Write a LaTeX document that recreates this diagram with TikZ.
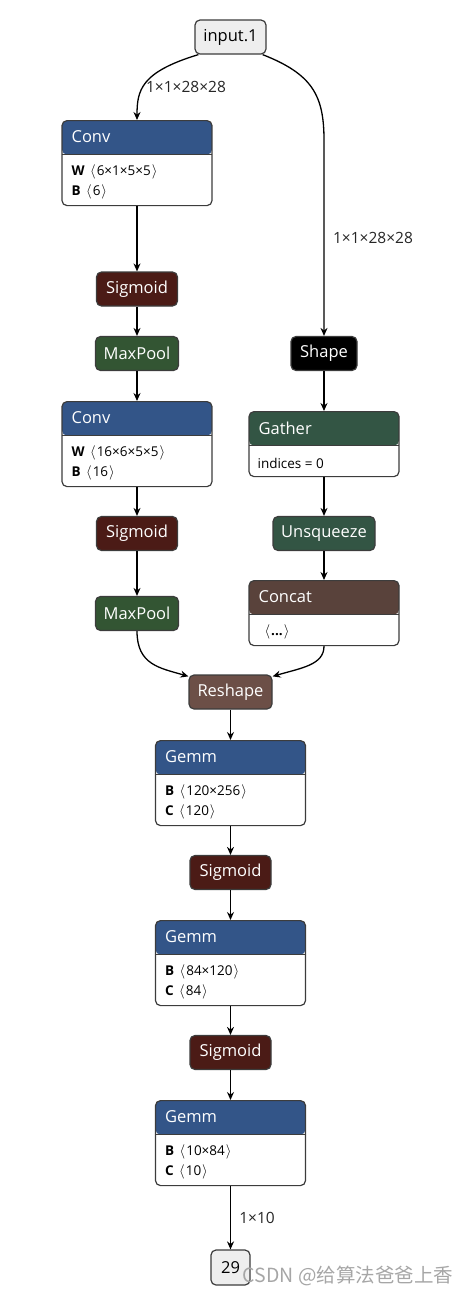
\documentclass[tikz,border=0pt]{standalone}
\usepackage{fontspec}
\setmainfont{Open Sans}
\newfontfamily\cjk{Noto Sans CJK SC}
\usetikzlibrary{arrows.meta}
\definecolor{layer}{RGB}{51,85,136}
\definecolor{act}{RGB}{75,27,22}
\definecolor{pool}{RGB}{51,85,51}
\definecolor{trans}{RGB}{51,85,68}
\definecolor{tens}{RGB}{89,66,59}
\definecolor{shp}{RGB}{108,79,71}
\definecolor{bord}{RGB}{60,60,60}
\definecolor{io}{RGB}{238,238,238}
\newcommand\lab{\hspace{2pt}\ensuremath{\langle}\hspace{1pt}}
\newcommand\rab{\hspace{1pt}\ensuremath{\rangle}}
\tikzset{
 op/.style={draw=bord, line width=1.2pt, rounded corners=5pt, minimum height=34pt, inner sep=0pt, text=white, font=\fontsize{16.5}{18}\selectfont},
 iobox/.style={op, fill=io, text=black},
 big/.style 2 args={draw=bord, line width=1.2pt, fill=white, rounded corners=5pt, minimum width=150pt, minimum height=#2, anchor=north, inner sep=0pt,
   path picture={\fill[#1] (path picture bounding box.north west) rectangle ([yshift=-34pt]path picture bounding box.north east);
   \draw[bord, line width=1.2pt] ([yshift=-34pt]path picture bounding box.north west) -- ([yshift=-34pt]path picture bounding box.north east);}},
 ttl/.style={anchor=west, text=white, inner sep=0pt, font=\fontsize{16.5}{18}\selectfont},
 row/.style={anchor=west, inner sep=0pt, font=\fontsize{13.5}{15}\selectfont},
 arr/.style={-{Stealth[length=8pt,width=7pt]}, line width=1.3pt},
 elab/.style={inner sep=0pt, text=black!85, font=\fontsize{15.5}{17}\selectfont}
}
\begin{document}
\begin{tikzpicture}[x=1pt,y=-1pt]
\useasboundingbox (0,0) rectangle (468,1294);
% left column
\node[iobox, minimum width=71pt] (in) at (230.5,37) {input.1};
\node[big={layer}{85pt}] (conv1) at (137,120) {};
\node[ttl] (conv1t) at ([xshift=10pt,yshift=-17pt]conv1.north west) {Conv};
\node[row] (conv1w) at ([xshift=10pt,yshift=-52pt]conv1.north west) {\textbf{W}\ \lab6×1×5×5\rab};
\node[row] (conv1b) at ([xshift=10pt,yshift=-72pt]conv1.north west) {\textbf{B}\ \lab6\rab};
\node[op, fill=act, minimum width=81pt] (sig1) at (137,289) {Sigmoid};
\node[op, fill=pool, minimum width=83pt] (mp1) at (137,353.5) {MaxPool};
\node[big={layer}{85pt}] (conv2) at (137,401) {};
\node[ttl] (conv2t) at ([xshift=10pt,yshift=-17pt]conv2.north west) {Conv};
\node[row] (conv2w) at ([xshift=10pt,yshift=-52pt]conv2.north west) {\textbf{W}\ \lab16×6×5×5\rab};
\node[row] (conv2b) at ([xshift=10pt,yshift=-72pt]conv2.north west) {\textbf{B}\ \lab16\rab};
\node[op, fill=act, minimum width=81pt] (sig2) at (137,533.5) {Sigmoid};
\node[op, fill=pool, minimum width=83pt] (mp2) at (137,613.5) {MaxPool};
% right column
\node[op, fill=black, minimum width=66pt] (shape) at (324,353.5) {Shape};
\node[big={trans}{65pt}] (gather) at (324,411) {};
\node[ttl] (gathert) at ([xshift=10pt,yshift=-17pt]gather.north west) {Gather};
\node[row] (gatheri) at ([xshift=9pt,yshift=-52pt]gather.north west) {indices = 0};
\node[op, fill=trans, minimum width=102pt] (unsq) at (324,533.5) {Unsqueeze};
\node[big={tens}{65pt}] (concat) at (324,580) {};
\node[ttl] (concatt) at ([xshift=10pt,yshift=-17pt]concat.north west) {Concat};
\node[row] (concatr) at ([xshift=14pt,yshift=-52pt]concat.north west) {\textbf{\lab...\rab}};
% middle column
\node[op, fill=shp, minimum width=83pt] (reshape) at (230.5,692) {Reshape};
\node[big={layer}{85pt}] (gemm1) at (230.5,740) {};
\node[ttl] (gemm1t) at ([xshift=10pt,yshift=-17pt]gemm1.north west) {Gemm};
\node[row] (gemm1b) at ([xshift=10pt,yshift=-52pt]gemm1.north west) {\textbf{B}\ \lab120×256\rab};
\node[row] (gemm1c) at ([xshift=10pt,yshift=-72pt]gemm1.north west) {\textbf{C}\ \lab120\rab};
\node[op, fill=act, minimum width=81pt] (sig3) at (230.5,872.5) {Sigmoid};
\node[big={layer}{85pt}] (gemm2) at (230.5,920) {};
\node[ttl] (gemm2t) at ([xshift=10pt,yshift=-17pt]gemm2.north west) {Gemm};
\node[row] (gemm2b) at ([xshift=10pt,yshift=-52pt]gemm2.north west) {\textbf{B}\ \lab84×120\rab};
\node[row] (gemm2c) at ([xshift=10pt,yshift=-72pt]gemm2.north west) {\textbf{C}\ \lab84\rab};
\node[op, fill=act, minimum width=81pt] (sig4) at (230.5,1052.5) {Sigmoid};
\node[big={layer}{85pt}] (gemm3) at (230.5,1100) {};
\node[ttl] (gemm3t) at ([xshift=10pt,yshift=-17pt]gemm3.north west) {Gemm};
\node[row] (gemm3b) at ([xshift=10pt,yshift=-52pt]gemm3.north west) {\textbf{B}\ \lab10×84\rab};
\node[row] (gemm3c) at ([xshift=10pt,yshift=-72pt]gemm3.north west) {\textbf{C}\ \lab10\rab};
\node[iobox, minimum width=39pt, minimum height=35pt] (out) at (230.5,1267.5) {29};
% edges
\draw[arr] ([xshift=4pt]in.south west) .. controls (141,72) and (137,90) .. (conv1.north);
\coordinate (rbend) at (324,140);
\draw[arr] ([xshift=-4pt]in.south east) .. controls (312,74) and (324,95) .. (rbend) -- (shape.north);
\draw[arr] (conv1.south) -- (sig1.north);
\draw[arr] (sig1.south) -- (mp1.north);
\draw[arr] (mp1.south) -- (conv2.north);
\draw[arr] (conv2.south) -- (sig2.north);
\draw[arr] (sig2.south) -- (mp2.north);
\draw[arr] (shape.south) -- (gather.north);
\draw[arr] (gather.south) -- (unsq.north);
\draw[arr] (unsq.south) -- (concat.north);
\draw[arr] (mp2.south) .. controls (137,665) and (160,668) .. ([yshift=-2pt]reshape.north west);
\draw[arr] (concat.south) .. controls (324,665) and (301,668) .. ([yshift=-2pt]reshape.north east);
\draw[arr] (reshape.south) -- (gemm1.north);
\draw[arr] (gemm1.south) -- (sig3.north);
\draw[arr] (sig3.south) -- (gemm2.north);
\draw[arr] (gemm2.south) -- (sig4.north);
\draw[arr] (sig4.south) -- (gemm3.north);
\draw[arr] (gemm3.south) -- (out.north);
% edge labels
\node[elab] (l1) at (186,87) {1×1×28×28};
\node[elab] (l2) at (373,238) {1×1×28×28};
\node[elab] (l3) at (257,1218) {1×10};
% watermark
\node[inner sep=0pt, text=black!35, font=\fontsize{19.5}{21}\selectfont\cjk] (wm) at (348,1276) {CSDN @给算法爸爸上香};
\end{tikzpicture}
\end{document}
